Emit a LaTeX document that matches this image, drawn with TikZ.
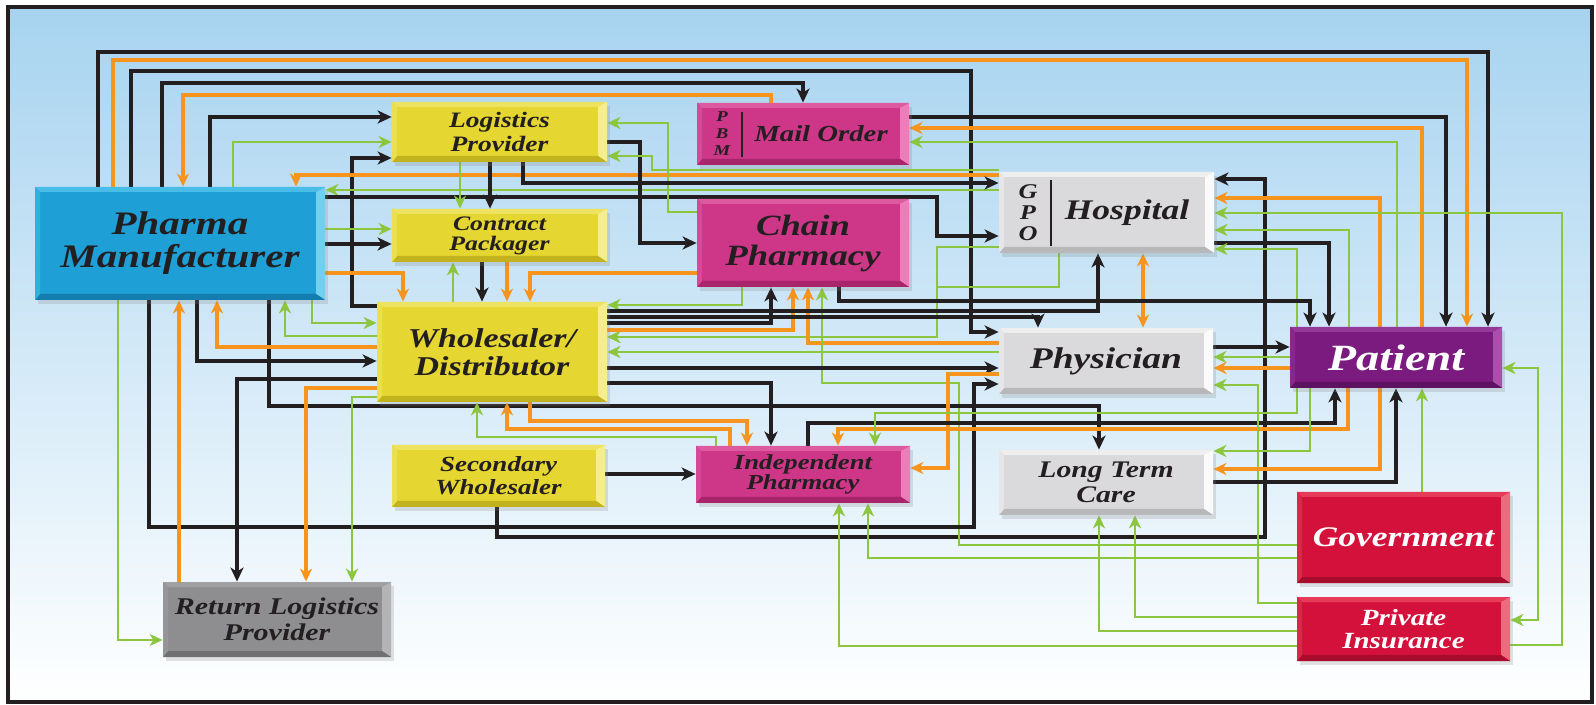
\documentclass[tikz,border=0pt]{standalone}
\usepackage{fontspec}
\newfontfamily\lblfam[FakeStretch=1.25]{Liberation Serif}
\usetikzlibrary{arrows.meta,shadows,calc}

% line colours
\definecolor{lnblack}{HTML}{231F20}
\definecolor{lnorange}{HTML}{F7941D}
\definecolor{lngreen}{HTML}{8CC63F}
\definecolor{txtdark}{HTML}{231F20}
\definecolor{bgtop}{HTML}{A7D3F0}
\definecolor{bgmid}{HTML}{C9E4F6}
% bevel palettes: base / top / right / bottom / left
\definecolor{pmbase}{HTML}{1E9FD6}\definecolor{pmtop}{HTML}{49BDE8}\definecolor{pmright}{HTML}{73CFF0}\definecolor{pmbottom}{HTML}{137DB0}\definecolor{pmleft}{HTML}{2FB0E2}
\definecolor{ylbase}{HTML}{E5D631}\definecolor{yltop}{HTML}{EEE360}\definecolor{ylright}{HTML}{F6EE8C}\definecolor{ylbottom}{HTML}{C2B21E}\definecolor{ylleft}{HTML}{EADF50}
\definecolor{mgbase}{HTML}{CE3688}\definecolor{mgtop}{HTML}{DE5AA0}\definecolor{mgright}{HTML}{EC7DB8}\definecolor{mgbottom}{HTML}{A8256B}\definecolor{mgleft}{HTML}{D84898}
\definecolor{lgbase}{HTML}{DADADC}\definecolor{lgtop}{HTML}{EEEEEF}\definecolor{lgright}{HTML}{FAFAFA}\definecolor{lgbottom}{HTML}{B8B8BA}\definecolor{lgleft}{HTML}{E6E6E8}
\definecolor{pubase}{HTML}{7B1B7F}\definecolor{putop}{HTML}{94389A}\definecolor{puright}{HTML}{A850AC}\definecolor{pubottom}{HTML}{5E1262}\definecolor{puleft}{HTML}{88288C}
\definecolor{rdbase}{HTML}{D3113A}\definecolor{rdtop}{HTML}{E53A58}\definecolor{rdright}{HTML}{EE6A7C}\definecolor{rdbottom}{HTML}{A80C2C}\definecolor{rdleft}{HTML}{DC2848}
\definecolor{dgbase}{HTML}{8E8E90}\definecolor{dgtop}{HTML}{A0A0A2}\definecolor{dgright}{HTML}{B4B4B6}\definecolor{dgbottom}{HTML}{707072}\definecolor{dgleft}{HTML}{969698}

\newcommand\lblf[2]{\lblfam\bfseries\itshape\fontsize{#1}{#2}\selectfont}

\pgfdeclarelayer{backdrop}
\pgfdeclarelayer{wires}
\pgfsetlayers{backdrop,wires,main}

\tikzset{
  bev/.style={fill=#1base, draw=none, inner sep=0pt, align=center, text=txtdark,
    drop shadow={shadow xshift=1.5pt,shadow yshift=-2pt,opacity=.22},
    path picture={
      \path (path picture bounding box.north west) coordinate (bvnw)
            (path picture bounding box.north east) coordinate (bvne)
            (path picture bounding box.south east) coordinate (bvse)
            (path picture bounding box.south west) coordinate (bvsw);
      \fill[#1top] (bvnw) -- (bvne) -- ([shift={(-4.5pt,-2.5pt)}]bvne) -- ([shift={(2.5pt,-2.5pt)}]bvnw) -- cycle;
      \fill[#1right] (bvne) -- (bvse) -- ([shift={(-4.5pt,3pt)}]bvse) -- ([shift={(-4.5pt,-2.5pt)}]bvne) -- cycle;
      \fill[#1bottom] (bvse) -- (bvsw) -- ([shift={(2.5pt,3pt)}]bvsw) -- ([shift={(-4.5pt,3pt)}]bvse) -- cycle;
      \fill[#1left] (bvsw) -- (bvnw) -- ([shift={(2.5pt,-2.5pt)}]bvnw) -- ([shift={(2.5pt,3pt)}]bvsw) -- cycle;
    }},
  bk/.style={draw=lnblack, line width=1.7pt, -{Stealth[length=7pt,width=6.5pt,inset=2pt]}},
  og/.style={draw=lnorange, line width=1.6pt, -{Stealth[length=6.5pt,width=6pt,inset=2pt]}},
  gn/.style={draw=lngreen, line width=1.45pt, -{Stealth[length=6.5pt,width=6pt,inset=2pt]}},
  twoway/.style={{Stealth[length=6.5pt,width=6pt,inset=2pt]}-{Stealth[length=6.5pt,width=6pt,inset=2pt]}},
}

\begin{document}
\begin{tikzpicture}[x=0.5pt,y=-0.5pt]
\useasboundingbox (0,0) rectangle (1596,705);

\begin{pgfonlayer}{backdrop}
  \shade[top color=bgtop, middle color=bgmid, bottom color=white] (8,7) rectangle (1592,702);
  \draw[line width=1.6pt, lnblack] (8,7) rectangle (1592,702);
\end{pgfonlayer}

% ---------- boxes ----------
\node[bev=pm, minimum width=145pt, minimum height=56.5pt, font={\lblf{16.4}{16.5}}] (pharma) at (180,243.5) {Pharma\\Manufacturer};
\node[bev=yl, minimum width=107.5pt, minimum height=30pt, font={\lblf{11}{12}}] (logis) at (499.5,132) {Logistics\\Provider};
\node[bev=yl, minimum width=107.5pt, minimum height=26.5pt, font={\lblf{10.3}{10}}] (cpack) at (499.5,235.5) {Contract\\Packager};
\node[bev=yl, minimum width=115pt, minimum height=50pt, font={\lblf{13.6}{14}}] (whole) at (492,352) {Wholesaler/\\Distributor};
\node[bev=yl, minimum width=106.5pt, minimum height=31pt, font={\lblf{10.8}{11.5}}] (secw) at (498.5,476) {Secondary\\Wholesaler};
\node[bev=mg, minimum width=106pt, minimum height=31pt] (mail) at (803,134) {};
\node[bev=mg, minimum width=106pt, minimum height=44pt, font={\lblf{14.7}{15}}] (chain) at (803,243) {Chain\\Pharmacy};
\node[bev=mg, minimum width=107pt, minimum height=28.5pt, font={\lblf{10.7}{10}}] (indep) at (803,474.5) {Independent\\Pharmacy};
\node[bev=lg, minimum width=107.5pt, minimum height=40.5pt] (hosp) at (1106.5,212.5) {};
\node[bev=lg, minimum width=107pt, minimum height=33pt, font={\lblf{15}{15}}] (phys) at (1106,361) {Physician};
\node[bev=lg, minimum width=107pt, minimum height=32.5pt, font={\lblf{11.9}{12.5}}] (ltc) at (1106,482.5) {Long Term\\Care};
\node[bev=pu, minimum width=106pt, minimum height=30.5pt, font={\lblf{18.5}{18}}, text=white] (patient) at (1396,357.5) {Patient};
\node[bev=rd, minimum width=106.5pt, minimum height=45.5pt, font={\lblf{14.2}{14}}, text=white] (gov) at (1403.5,537.5) {Government};
\node[bev=rd, minimum width=106.5pt, minimum height=32pt, font={\lblf{11.6}{11.5}}, text=white] (priv) at (1403.5,629) {Private\\Insurance};
\node[bev=dg, minimum width=114pt, minimum height=37.5pt, font={\lblf{12}{13}}] (retl) at (277,619.5) {Return Logistics\\Provider};

% split labels of the PBM and GPO boxes
\node[font={\lblf{11.5}{12}}, text=txtdark, inner sep=0pt] (mailname) at (821,134) {Mail Order};
\node[font={\lblf{7.5}{8.5}}, text=txtdark, align=center, inner sep=0pt] (mailpbm) at (722,134) {P\\B\\M};
\draw[line width=1pt, txtdark] ($(mail.west)+(45,-22)$) -- ($(mail.west)+(45,23)$);
\node[font={\lblf{14.2}{14}}, text=txtdark, inner sep=0pt] (hospname) at (1127,212.5) {Hospital};
\node[font={\lblf{10.5}{10.5}}, text=txtdark, align=center, inner sep=0pt] (hospgpo) at (1028,213) {G\\P\\O};
\draw[line width=1pt, txtdark] ($(hosp.west)+(52,-32)$) -- ($(hosp.west)+(52,34)$);

% ---------- connectors ----------
\begin{pgfonlayer}{wires}
% outer loops above the boxes
\draw[bk] (pharma.north -| 98,0) |- (1488,52) -- (patient.north -| 1488,0);
\draw[og] (pharma.north -| 113,0) |- (1467,60) -- (patient.north -| 1467,0);
\draw[bk] (pharma.north -| 131,0) |- (971,71) |- (phys.west |- 0,332);
\draw[bk] (pharma.north -| 162,0) |- (803,83) -- (mail.north -| 803,0);
\draw[og] (mail.north -| 771,0) |- (183,95) -- (pharma.north -| 183,0);
\draw[bk] (pharma.north -| 210,0) |- (logis.west |- 0,117);
\draw[gn] (pharma.north -| 233,0) |- (logis.west |- 0,142);
\draw[bk] (whole.west |- 0,306) -| (352,158) -- (logis.west |- 0,158);
% band between the manufacturer and the hospital
\draw[og] (hosp.west |- 0,175) -| (pharma.north -| 296,0);
\draw[gn] (hosp.west |- 0,190) -- (pharma.east |- 0,190);
\draw[bk] (pharma.east |- 0,197) -| (937,236) -- (hosp.west |- 0,236);
\draw[gn] (pharma.east |- 0,229) -- (cpack.west |- 0,229);
\draw[bk] (pharma.east |- 0,244) -- (cpack.west |- 0,244);
\draw[og] (pharma.east |- 0,273) -| (whole.north -| 403,0);
\draw[gn] (logis.south -| 460,0) -- (cpack.north -| 460,0);
\draw[bk] (logis.south -| 490,0) -- (cpack.north -| 490,0);
\draw[gn] (whole.north -| 453,0) -- (cpack.south -| 453,0);
\draw[bk] (cpack.south -| 482,0) -- (whole.north -| 482,0);
\draw[og] (cpack.south -| 507,0) -- (whole.north -| 507,0);
\draw[og] (chain.west |- 0,273) -| (whole.north -| 530,0);
\draw[gn] (chain.west |- 0,212) -| (668,123) -- (logis.east |- 0,123);
\draw[bk] (logis.east |- 0,142) -| (640,243) -- (chain.west |- 0,243);
\draw[gn] (hosp.west |- 0,170) -| (652,156) -- (logis.east |- 0,156);
\draw[bk] (logis.south -| 523,0) |- (hosp.west |- 0,183);
% mail order and hospital to patient
\draw[bk] (mail.east |- 0,117) -| (patient.north -| 1446,0);
\draw[og] (patient.north -| 1422,0) |- (mail.east |- 0,128);
\draw[gn] (patient.north -| 1397,0) |- (mail.east |- 0,142);
\draw[bk] (secw.south -| 497,0) |- (1265,537) |- (hosp.east |- 0,179);
\draw[og] (patient.north -| 1380,0) |- (hosp.east |- 0,198);
\draw[gn] (priv.east |- 0,645) -| (1562,213) -- (hosp.east |- 0,213);
\draw[gn] (patient.north -| 1349,0) |- (hosp.east |- 0,230);
\draw[bk] (hosp.east |- 0,243) -| (patient.north -| 1329,0);
\draw[gn] (patient.north -| 1297,0) |- (hosp.east |- 0,249);
\draw[og,twoway] (hosp.south -| 1143,0) -- (phys.north -| 1143,0);
% wholesaler, chain and physician
\draw[gn] (hosp.west |- 0,247) -| (937,337) -- (whole.east |- 0,337);
\draw[gn] (hosp.south -| 1059,0) |- (937,287) -- (937,337) -- (whole.east |- 0,337);
\draw[gn] (chain.south -| 742,0) |- (whole.east |- 0,305);
\draw[bk] (whole.east |- 0,323) -| (chain.south -| 771,0);
\draw[og] (whole.east |- 0,330) -| (chain.south -| 793,0);
\draw[og] (phys.west |- 0,343) -| (chain.south -| 808,0);
\draw[gn] (gov.west |- 0,545) -| (959,383) -| (chain.south -| 822,0);
\draw[bk] (chain.south -| 839,0) |- (1310,301) -- (patient.north -| 1310,0);
\draw[bk] (whole.east |- 0,311) -| (hosp.south -| 1098,0);
\draw[bk] (whole.east |- 0,317) -| (phys.north -| 1038,0);
\draw[gn] (phys.west |- 0,352) -- (whole.east |- 0,352);
\draw[bk] (whole.east |- 0,368) -- (phys.west |- 0,368);
\draw[bk] (whole.east |- 0,383) -| (indep.north -| 771,0);
\draw[bk] (pharma.south -| 269,0) |- (1099,406) -- (ltc.north -| 1099,0);
\draw[og] (phys.west |- 0,374) -| (948,468) -- (indep.east |- 0,468);
\draw[bk] (pharma.south -| 149,0) |- (974,527) |- (phys.west |- 0,384);
% manufacturer, wholesaler and returns
\draw[gn] (pharma.south -| 118,0) |- (retl.west |- 0,640);
\draw[og] (retl.north -| 179,0) -- (pharma.south -| 179,0);
\draw[bk] (pharma.south -| 197,0) |- (whole.west |- 0,361);
\draw[og] (whole.west |- 0,347) -| (pharma.south -| 217,0);
\draw[gn] (whole.west |- 0,336) -| (pharma.south -| 285,0);
\draw[gn] (pharma.south -| 312,0) |- (whole.west |- 0,323);
\draw[bk] (whole.west |- 0,379) -| (retl.north -| 237,0);
\draw[og] (whole.west |- 0,388) -| (retl.north -| 306,0);
\draw[gn] (whole.west |- 0,397) -| (retl.north -| 352,0);
% independent pharmacy
\draw[gn] (indep.north -| 716,0) |- (477,437) -- (whole.south -| 477,0);
\draw[og] (indep.north -| 730,0) |- (507,429) -- (whole.south -| 507,0);
\draw[og] (whole.south -| 530,0) |- (747,421) -- (indep.north -| 747,0);
\draw[bk] (secw.east |- 0,474) -- (indep.west |- 0,474);
\draw[bk] (indep.north -| 808,0) |- (1335,423) -- (patient.south -| 1335,0);
\draw[og] (patient.south -| 1348,0) |- (838,429) -- (indep.north -| 838,0);
\draw[gn] (patient.south -| 1297,0) |- (875,413) -- (indep.north -| 875,0);
% payers
\draw[gn] (gov.west |- 0,558) -| (indep.south -| 868,0);
\draw[gn] (priv.west |- 0,646) -| (indep.south -| 839,0);
\draw[gn] (priv.west |- 0,631) -| (ltc.south -| 1099,0);
\draw[gn] (priv.west |- 0,617) -| (ltc.south -| 1135,0);
\draw[gn] (priv.west |- 0,603) -| (1258,385) -- (phys.east |- 0,385);
\draw[gn] (gov.north -| 1422,0) -- (patient.south -| 1422,0);
\draw[gn,twoway] (patient.east |- 0,368) -| (1538,620) -- (priv.east |- 0,620);
% physician, long term care and patient
\draw[bk] (phys.east |- 0,347) -- (patient.west |- 0,347);
\draw[gn] (patient.west |- 0,357) -- (phys.east |- 0,357);
\draw[og] (patient.west |- 0,368) -- (phys.east |- 0,368);
\draw[gn] (patient.south -| 1310,0) |- (ltc.east |- 0,451);
\draw[og] (patient.south -| 1380,0) |- (ltc.east |- 0,469);
\draw[bk] (ltc.east |- 0,482) -| (patient.south -| 1396,0);
\end{pgfonlayer}
\end{tikzpicture}
\end{document}
